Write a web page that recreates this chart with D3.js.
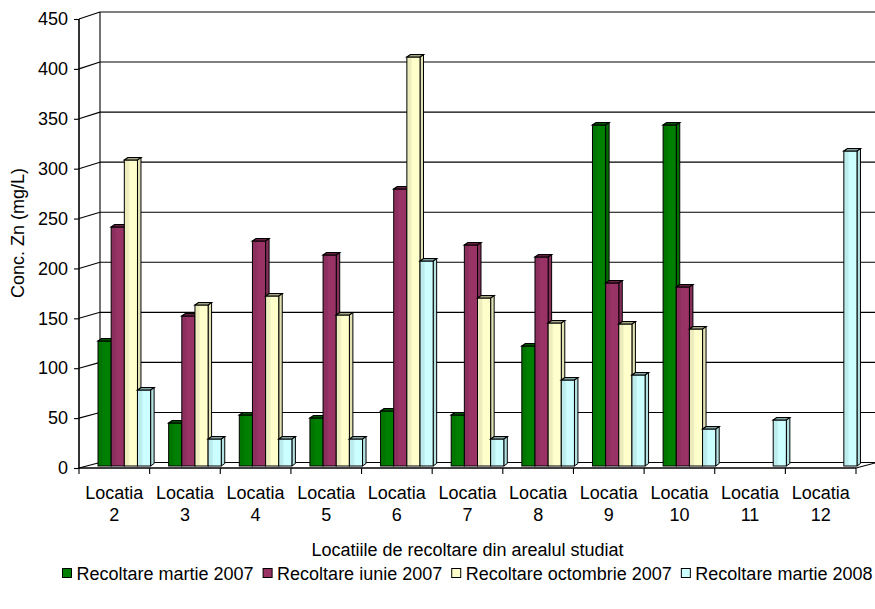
<!DOCTYPE html>
<html>
<head>
<meta charset="utf-8">
<script src="https://cdn.jsdelivr.net/npm/d3@7"></script>
<style>
  html, body { margin: 0; padding: 0; background: #fff; }
  svg { display: block; }
  text { font-family: Arial, "Liberation Sans", sans-serif; fill: #000; }
</style>
</head>
<body>
<svg id="chart" width="875" height="609"></svg>
<script>
// Zinc concentration per sampling location and harvest campaign
const categories = ["Locatia 2", "Locatia 3", "Locatia 4", "Locatia 5", "Locatia 6", "Locatia 7",
                    "Locatia 8", "Locatia 9", "Locatia 10", "Locatia 11", "Locatia 12"];
const seriesNames = ["Recoltare martie 2007", "Recoltare iunie 2007",
                     "Recoltare octombrie 2007", "Recoltare martie 2008"];
const martie2007    = [125, 43, 51, 48, 55, 51, 120, 341, 341, null, null];
const iunie2007     = [239, 150, 225, 211, 277, 221, 209, 183, 179, null, null];
const octombrie2007 = [306, 161, 170, 151, 409, 168, 143, 142, 137, null, null];
const martie2008    = [76, 27, 27, 27, 205, 27, 86, 91, 37, 46, 315];
const yTicks = [0, 50, 100, 150, 200, 250, 300, 350, 400, 450];
const seriesColors = ["#008000", "#993366", "#FFFFCC", "#CCFFFF"];

const seriesValues = [martie2007, iunie2007, octombrie2007, martie2008];

const svg = d3.select("#chart");
const FONT = 18;

// Plot frame: front plane, back wall offset for the 3-D depth
const frontLeft = 79, frontRight = 856;
const depthX = 21;
const yFront = d3.scaleLinear().domain([0, 450]).range([468, 19]);
const yBack  = d3.scaleLinear().domain([0, 450]).range([462.5, 12]);
const yBar   = d3.scaleLinear().domain([0, 450]).range([466, 16]);

const x = d3.scaleBand().domain(categories).range([frontLeft, frontRight]).padding(0);
const groupWidth = 52.6;
const xInner = d3.scaleBand().domain(seriesNames).range([0, groupWidth]).padding(0);
const barShift = (x.bandwidth() - groupWidth) / 2 + 10;

const color = d3.scaleOrdinal().domain(seriesNames).range(seriesColors);

// Back wall gridlines
const grid = svg.append("g");
grid.selectAll("line.back").data(yTicks).join("line")
  .attr("x1", frontLeft + depthX).attr("x2", frontRight + depthX)
  .attr("y1", d => yBack(d)).attr("y2", d => yBack(d))
  .attr("stroke", "#000").attr("stroke-width", 1.1);
// back-left vertical edge
grid.append("line")
  .attr("x1", frontLeft + depthX).attr("x2", frontLeft + depthX)
  .attr("y1", yBack(450)).attr("y2", yBack(0))
  .attr("stroke", "#000").attr("stroke-width", 1.1);
// side wall gridlines running from the front axis to the back wall
grid.selectAll("line.side").data(yTicks).join("line")
  .attr("x1", frontLeft).attr("x2", frontLeft + depthX)
  .attr("y1", d => yFront(d)).attr("y2", d => yBack(d))
  .attr("stroke", "#000").attr("stroke-width", 1.1);
// floor: front edge and right edge
grid.append("line")
  .attr("x1", frontLeft).attr("x2", frontRight)
  .attr("y1", yFront(0)).attr("y2", yFront(0))
  .attr("stroke", "#000").attr("stroke-width", 1.6);
grid.append("line")
  .attr("x1", frontRight).attr("x2", frontRight + depthX)
  .attr("y1", yFront(0)).attr("y2", yBack(0))
  .attr("stroke", "#000").attr("stroke-width", 1.1);

// Gradients for the column faces
const defs = svg.append("defs");
seriesNames.forEach((s, i) => {
  const base = d3.color(seriesColors[i]);
  const dark = d3.color(seriesColors[i]).darker(0.22);
  const gr = defs.append("linearGradient").attr("id", "face" + i)
    .attr("x1", "0%").attr("x2", "100%").attr("y1", "0%").attr("y2", "0%");
  gr.append("stop").attr("offset", "0%").attr("stop-color", dark);
  gr.append("stop").attr("offset", "30%").attr("stop-color", dark);
  gr.append("stop").attr("offset", "42%").attr("stop-color", base);
  gr.append("stop").attr("offset", "100%").attr("stop-color", base);
});

// Columns, drawn left to right so each one covers its neighbour's side face
const bars = [];
categories.forEach((c, ci) => {
  seriesNames.forEach((s, si) => {
    const v = seriesValues[si][ci];
    if (v != null) bars.push({ c, s, si, v });
  });
});

const bdx = 3.5, bdy = -2.5;
const barG = svg.append("g");
const bar = barG.selectAll("g").data(bars).join("g");
bar.each(function (d) {
  const g = d3.select(this);
  const x0 = x(d.c) + barShift + xInner(d.s);
  const w = xInner.bandwidth();
  const yt = yBar(d.v), yb = yBar(0);
  const base = d3.color(color(d.s));
  g.append("path")
    .attr("d", `M${x0 + w},${yt}L${x0 + w + bdx},${yt + bdy}L${x0 + w + bdx},${yb + bdy}L${x0 + w},${yb}Z`)
    .attr("fill", base.darker(0.35)).attr("stroke", "#000").attr("stroke-width", 1);
  g.append("rect")
    .attr("x", x0).attr("y", yt).attr("width", w).attr("height", yb - yt)
    .attr("fill", `url(#face${d.si})`).attr("stroke", "#000").attr("stroke-width", 1);
  g.append("path")
    .attr("d", `M${x0},${yt}L${x0 + bdx},${yt + bdy}L${x0 + w + bdx},${yt + bdy}L${x0 + w},${yt}Z`)
    .attr("fill", base.darker(1.2)).attr("stroke", "#000").attr("stroke-width", 1.2);
});

// Vertical (value) axis on the front-left edge
const yAxis = d3.axisLeft(yFront).tickValues(yTicks).tickSize(5).tickPadding(6);
const yAxisG = svg.append("g").attr("transform", `translate(${frontLeft},0)`).call(yAxis);
yAxisG.select(".domain").attr("stroke", "#000").attr("stroke-width", 1.6)
  .attr("d", `M0,${yFront(450)}V${yFront(0)}`);
yAxisG.selectAll(".tick line").attr("stroke", "#000").attr("stroke-width", 1.1);
yAxisG.selectAll(".tick text").attr("font-size", FONT).attr("font-family", null).attr("fill", "#000");

// Category axis ticks and two-line labels
const xTickPos = d3.range(categories.length + 1).map(i => frontLeft + i * x.step());
svg.append("g").selectAll("line").data(xTickPos).join("line")
  .attr("x1", d => d).attr("x2", d => d)
  .attr("y1", yFront(0)).attr("y2", yFront(0) + 6)
  .attr("stroke", "#000").attr("stroke-width", 1.1);

const xl = svg.append("g").selectAll("text").data(categories).join("text")
  .attr("text-anchor", "middle").attr("font-size", FONT)
  .attr("x", d => x(d) + x.bandwidth() / 2);
xl.append("tspan").attr("x", d => x(d) + x.bandwidth() / 2).attr("y", 499).text(d => d.split(" ")[0]);
xl.append("tspan").attr("x", d => x(d) + x.bandwidth() / 2).attr("y", 521).text(d => d.split(" ")[1]);

// Axis titles
svg.append("text").attr("text-anchor", "middle").attr("font-size", FONT)
  .attr("x", (frontLeft + frontRight) / 2).attr("y", 556)
  .text("Locatiile de recoltare din arealul studiat");
svg.append("text").attr("text-anchor", "middle").attr("font-size", FONT)
  .attr("transform", "translate(24,233) rotate(-90)")
  .text("Conc. Zn (mg/L)");

// Legend
const legend = svg.append("g");
let lx = 62.5;
seriesNames.forEach((s, i) => {
  legend.append("rect").attr("x", lx).attr("y", 568.5).attr("width", 9).attr("height", 9)
    .attr("fill", color(s)).attr("stroke", "#000").attr("stroke-width", 1);
  const t = legend.append("text").attr("x", lx + 14).attr("y", 580).attr("font-size", FONT).text(s);
  lx += 14 + t.node().getComputedTextLength() + 9.5;
});
</script>
</body>
</html>
